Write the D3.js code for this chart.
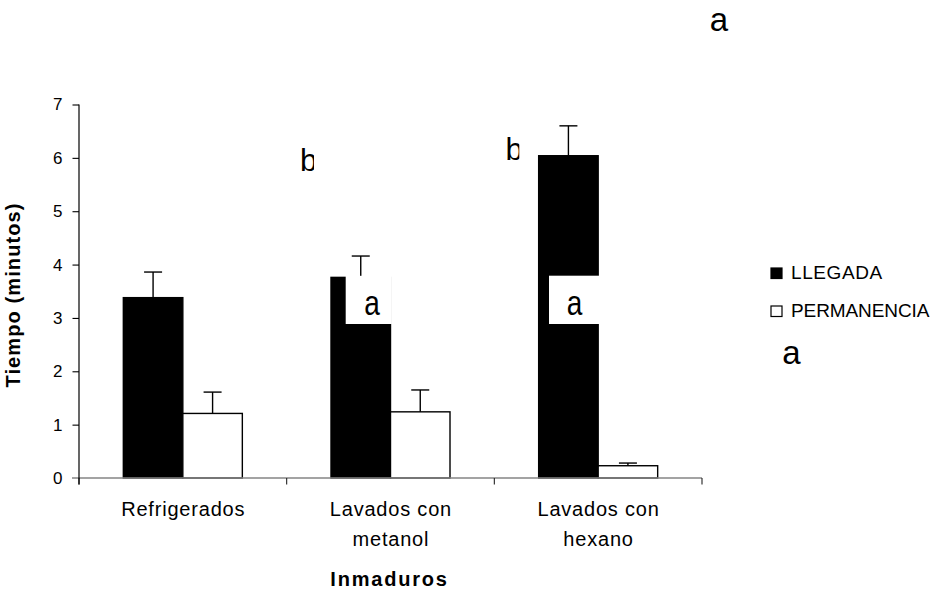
<!DOCTYPE html>
<html>
<head>
<meta charset="utf-8">
<script src="https://cdn.jsdelivr.net/npm/d3@7"></script>
<style>
  html, body { margin: 0; padding: 0; background: #fff; }
  svg { display: block; font-family: "Liberation Sans", Arial, sans-serif; }
</style>
</head>
<body>
<svg id="chart" width="936" height="590"></svg>
<script>
// ---- data ----
const categories = [["Refrigerados"], ["Lavados con", "metanol"], ["Lavados con", "hexano"]];
const seriesNames = ["LLEGADA", "PERMANENCIA"];
const llegada = [3.38, 3.76, 6.04];
const llegadaErr = [0.48, 0.40, 0.56];
const permanencia = [1.21, 1.24, 0.23];
const permanenciaErr = [0.40, 0.41, 0.05];
const yTicks = [0, 1, 2, 3, 4, 5, 6, 7];
const yTitle = "Tiempo (minutos)";
const xTitle = "Inmaduros";

// ---- layout ----
const svg = d3.select("#chart");
const plot = { left: 79, right: 702, top: 104.5, bottom: 478 };
const fills = ["#000", "#fff"];

const y = d3.scaleLinear().domain([0, 7]).range([plot.bottom, plot.top]);
const x0 = d3.scaleBand().domain(d3.range(categories.length)).range([plot.left, plot.right]).paddingInner(0).paddingOuter(0);
const x1 = d3.scaleBand().domain(d3.range(seriesNames.length)).range([0, x0.bandwidth()]).paddingInner(0).paddingOuter(0.745);

const values = [llegada, permanencia];
const errs = [llegadaErr, permanenciaErr];

// bars
const g = svg.append("g");
values.forEach((vals, s) => {
  g.selectAll(null).data(vals).enter().append("rect")
    .attr("x", (d, i) => x0(i) + x1(s))
    .attr("y", d => y(d))
    .attr("width", x1.bandwidth())
    .attr("height", d => y(0) - y(d))
    .attr("fill", fills[s])
    .attr("stroke", "#000")
    .attr("stroke-width", 1.4);
});

// error bars
const capW = 18;
values.forEach((vals, s) => {
  vals.forEach((v, i) => {
    const cx = x0(i) + x1(s) + x1.bandwidth() / 2;
    const top = y(v + errs[s][i]);
    g.append("line").attr("x1", cx).attr("x2", cx).attr("y1", y(v)).attr("y2", top)
      .attr("stroke", "#000").attr("stroke-width", 1.4);
    g.append("line").attr("x1", cx - capW / 2).attr("x2", cx + capW / 2).attr("y1", top).attr("y2", top)
      .attr("stroke", "#000").attr("stroke-width", 1.4);
  });
});

// white label boxes overlapping bars (annotation boxes)
const boxes = [
  { x0: 345.7, x1: 391.8, y0: 275.8, y1: 324 },
  { x0: 549, x1: 599.8, y0: 275.7, y1: 324 }
];
boxes.forEach(b => {
  svg.append("rect").attr("x", b.x0).attr("y", b.y0).attr("width", b.x1 - b.x0).attr("height", b.y1 - b.y0)
    .attr("fill", "#fff");
});

// x axis
const xAxisG = svg.append("g");
xAxisG.append("line").attr("x1", 72).attr("x2", plot.right).attr("y1", plot.bottom).attr("y2", plot.bottom)
  .attr("stroke", "#858585").attr("stroke-width", 1.6);
const bounds = d3.range(categories.length + 1).map(i => i < categories.length ? x0(i) : x0(i - 1) + x0.bandwidth());
bounds.forEach(bx => {
  xAxisG.append("line").attr("x1", bx).attr("x2", bx).attr("y1", plot.bottom).attr("y2", plot.bottom + 6.5)
    .attr("stroke", "#222").attr("stroke-width", 1.1);
});
categories.forEach((lines, i) => {
  const t = xAxisG.append("text")
    .attr("x", x0(i) + x0.bandwidth() / 2 + 0.4)
    .attr("y", 515.5)
    .attr("text-anchor", "middle")
    .attr("font-size", 20)
    .attr("letter-spacing", 0.8)
    .attr("fill", "#000");
  lines.forEach((ln, k) => {
    t.append("tspan").attr("x", x0(i) + x0.bandwidth() / 2 + 0.4).attr("dy", k === 0 ? 0 : 30).text(ln);
  });
});

// y axis
const yAxis = d3.axisLeft(y).tickValues(yTicks).tickSize(6.5).tickPadding(10).tickFormat(d3.format("d"));
const yAxisG = svg.append("g").attr("transform", `translate(${plot.left},0)`).call(yAxis);
yAxisG.select(".domain").attr("stroke", "#000").attr("stroke-width", 1.2).attr("d", `M0,${plot.top}V${plot.bottom + 6.5}`);
yAxisG.selectAll(".tick line").attr("stroke", "#000").attr("stroke-width", 1.1);
yAxisG.selectAll(".tick text").attr("font-size", 17).attr("fill", "#000")
  .attr("font-family", "\"Liberation Sans\", Arial, sans-serif");
yAxisG.selectAll(".tick").filter(d => d === 0).select("line").remove();

// axis titles
svg.append("text")
  .attr("transform", "translate(20,295) rotate(-90)")
  .attr("text-anchor", "middle")
  .attr("font-size", 20).attr("font-weight", "bold").attr("letter-spacing", 1.1)
  .text(yTitle);
svg.append("text")
  .attr("x", 389.5).attr("y", 586)
  .attr("text-anchor", "middle")
  .attr("font-size", 20).attr("font-weight", "bold").attr("letter-spacing", 1.8)
  .text(xTitle);

// legend
const legend = svg.append("g");
const legendRows = [278.5, 316.5];
seriesNames.forEach((name, s) => {
  legend.append("rect").attr("x", 771).attr("y", legendRows[s] - 10.5).attr("width", 11).attr("height", 10.5)
    .attr("fill", fills[s]).attr("stroke", "#000").attr("stroke-width", 1.2);
  legend.append("text").attr("x", 791).attr("y", legendRows[s]).attr("font-size", 19)
    .attr("letter-spacing", s === 0 ? 0.6 : -0.1).text(name);
});

// significance letters (annotations)
const freeLetters = [
  { t: "a", x: 719, y: 31, size: 33, sx: 1 },
  { t: "a", x: 791.5, y: 364, size: 33, sx: 1 },
  { t: "a", x: 372, y: 315, size: 35, sx: 0.8 },
  { t: "a", x: 574.5, y: 315, size: 35, sx: 0.8 }
];
freeLetters.forEach(l => {
  svg.append("text").attr("transform", `translate(${l.x},${l.y}) scale(${l.sx},1)`)
    .attr("text-anchor", "middle").attr("font-size", l.size).text(l.t);
});
const clippedLetters = [
  { t: "b", x: 300, y: 171, clip: 314 },
  { t: "b", x: 505.5, y: 160, clip: 519.3 }
];
const defs = svg.append("defs");
clippedLetters.forEach((l, i) => {
  defs.append("clipPath").attr("id", "clipb" + i)
    .append("rect").attr("x", l.x - 5).attr("y", l.y - 40).attr("width", l.clip - (l.x - 5)).attr("height", 50);
  svg.append("text").attr("x", l.x).attr("y", l.y).attr("font-size", 31)
    .attr("clip-path", `url(#clipb${i})`).text(l.t);
});
</script>
</body>
</html>
